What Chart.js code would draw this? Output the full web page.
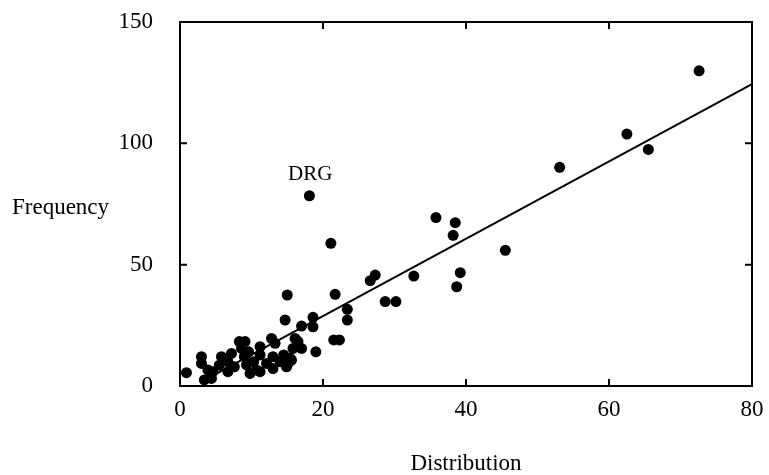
<!DOCTYPE html>
<html>
<head>
<meta charset="utf-8">
<script src="https://cdn.jsdelivr.net/npm/chart.js@4/dist/chart.umd.min.js"></script>
<style>
  html, body { margin: 0; padding: 0; background: #fff; }
  #wrap { width: 769px; height: 475px; position: relative; }
</style>
</head>
<body>
<div id="wrap"><canvas id="c" width="769" height="475"></canvas></div>
<script>
// Observed points (Distribution, Frequency)
const distribution = [
  72.6, 62.5, 65.5, 53.1, 35.8, 38.5, 38.2, 45.5, 39.2, 38.7,
  32.7, 27.3, 26.6, 18.1, 21.1, 15.0, 21.7, 28.7, 30.2, 23.4,
  23.4, 18.6, 18.6, 17.0, 14.7, 21.5, 22.3, 16.1, 17.0, 19.0,
  15.6, 16.5, 15.8, 15.1, 14.0, 14.9, 13.3, 12.8, 11.2, 9.1,
  8.3, 8.6, 9.6, 11.2, 13.0, 10.3, 9.3, 12.1, 13.0, 11.2,
  9.8, 10.7, 7.2, 6.7, 5.8, 5.5, 7.6, 6.7, 9.0, 4.6,
  3.9, 4.4, 3.4, 3.0, 3.0, 0.9, 14.5, 15.4
];
const frequency = [
  129.9, 103.8, 97.5, 90.1, 69.4, 67.3, 62.1, 55.9, 46.7, 40.9,
  45.3, 45.7, 43.4, 78.4, 58.8, 37.5, 37.8, 34.8, 34.8, 31.6,
  27.2, 28.3, 24.4, 24.7, 27.2, 19.0, 19.0, 19.6, 15.5, 14.1,
  10.7, 18.3, 15.5, 9.3, 10.0, 7.9, 17.6, 19.6, 16.2, 18.3,
  18.3, 15.5, 14.1, 12.8, 12.1, 10.0, 8.7, 9.3, 7.2, 5.9,
  5.2, 6.6, 13.4, 10.0, 12.1, 8.6, 7.9, 5.9, 12.1, 5.9,
  6.6, 3.1, 2.5, 9.3, 12.1, 5.5, 12.8, 11.4
];
// Fitted line end points
const fitX = [3.5, 80];
const fitY = [2.5, 124.4];
// Axis ticks
const xTicks = [0, 20, 40, 60, 80];
const yTicks = [0, 50, 100, 150];
// Annotation
const noteText = 'DRG';
const noteAt = [18.2, 87];

const FONT = '"Liberation Serif", "Times New Roman", serif';

const points = distribution.map((x, i) => ({ x: x, y: frequency[i] }));
const fitLine = fitX.map((x, i) => ({ x: x, y: fitY[i] }));

const framePlugin = {
  id: 'frame',
  afterDatasetsDraw(chart) {
    const { ctx, chartArea: a, scales: { x, y } } = chart;
    ctx.save();
    ctx.strokeStyle = '#000';
    ctx.lineWidth = 2;
    ctx.strokeRect(a.left, a.top, a.right - a.left, a.bottom - a.top);
    const tl = 7;
    ctx.beginPath();
    xTicks.slice(1, -1).forEach(v => {
      const px = x.getPixelForValue(v);
      ctx.moveTo(px, a.bottom); ctx.lineTo(px, a.bottom - tl);
      ctx.moveTo(px, a.top); ctx.lineTo(px, a.top + tl);
    });
    yTicks.slice(1, -1).forEach(v => {
      const py = y.getPixelForValue(v);
      ctx.moveTo(a.left, py); ctx.lineTo(a.left + tl, py);
      ctx.moveTo(a.right, py); ctx.lineTo(a.right - tl, py);
    });
    ctx.stroke();
    // annotation
    ctx.fillStyle = '#000';
    ctx.font = '21px ' + FONT;
    ctx.textAlign = 'center';
    ctx.textBaseline = 'middle';
    ctx.fillText(noteText, x.getPixelForValue(noteAt[0]), y.getPixelForValue(noteAt[1]));
    // horizontal y-axis title
    ctx.font = '23px ' + FONT;
    ctx.textAlign = 'left';
    ctx.textBaseline = 'alphabetic';
    ctx.fillText('Frequency', 12, 214);
    ctx.restore();
  }
};

new Chart(document.getElementById('c'), {
  type: 'scatter',
  data: {
    datasets: [
      {
        data: points,
        backgroundColor: '#000',
        borderColor: '#000',
        borderWidth: 0,
        pointRadius: 5.5,
        pointHoverRadius: 5.5
      },
      {
        type: 'line',
        data: fitLine,
        showLine: true,
        borderColor: '#000',
        borderWidth: 2,
        pointRadius: 0,
        fill: false
      }
    ]
  },
  options: {
    responsive: false,
    animation: false,
    events: [],
    layout: { autoPadding: false, padding: { left: 118, top: 22, right: 17, bottom: 0 } },
    plugins: { legend: { display: false }, tooltip: { enabled: false } },
    scales: {
      x: {
        type: 'linear',
        min: 0, max: 80,
        afterFit: s => { s.height = 89; s.paddingLeft = 0; s.paddingRight = 0; },
        afterBuildTicks: s => { s.ticks = xTicks.map(v => ({ value: v })); },
        grid: { display: false, drawTicks: false },
        border: { display: false },
        ticks: { padding: 10, color: '#000', font: { family: FONT, size: 23 }, maxRotation: 0 },
        title: { display: true, text: 'Distribution', color: '#000', padding: { top: 0, bottom: 0 }, font: { family: FONT, size: 23, lineHeight: 1.0 } }
      },
      y: {
        type: 'linear',
        min: 0, max: 150,
        afterFit: s => { s.width = 62; s.paddingTop = 0; s.paddingBottom = 0; },
        afterBuildTicks: s => { s.ticks = yTicks.map(v => ({ value: v })); },
        grid: { display: false, drawTicks: false },
        border: { display: false },
        ticks: { padding: 27, color: '#000', font: { family: FONT, size: 23 } }
      }
    }
  },
  plugins: [framePlugin]
});
</script>
</body>
</html>
